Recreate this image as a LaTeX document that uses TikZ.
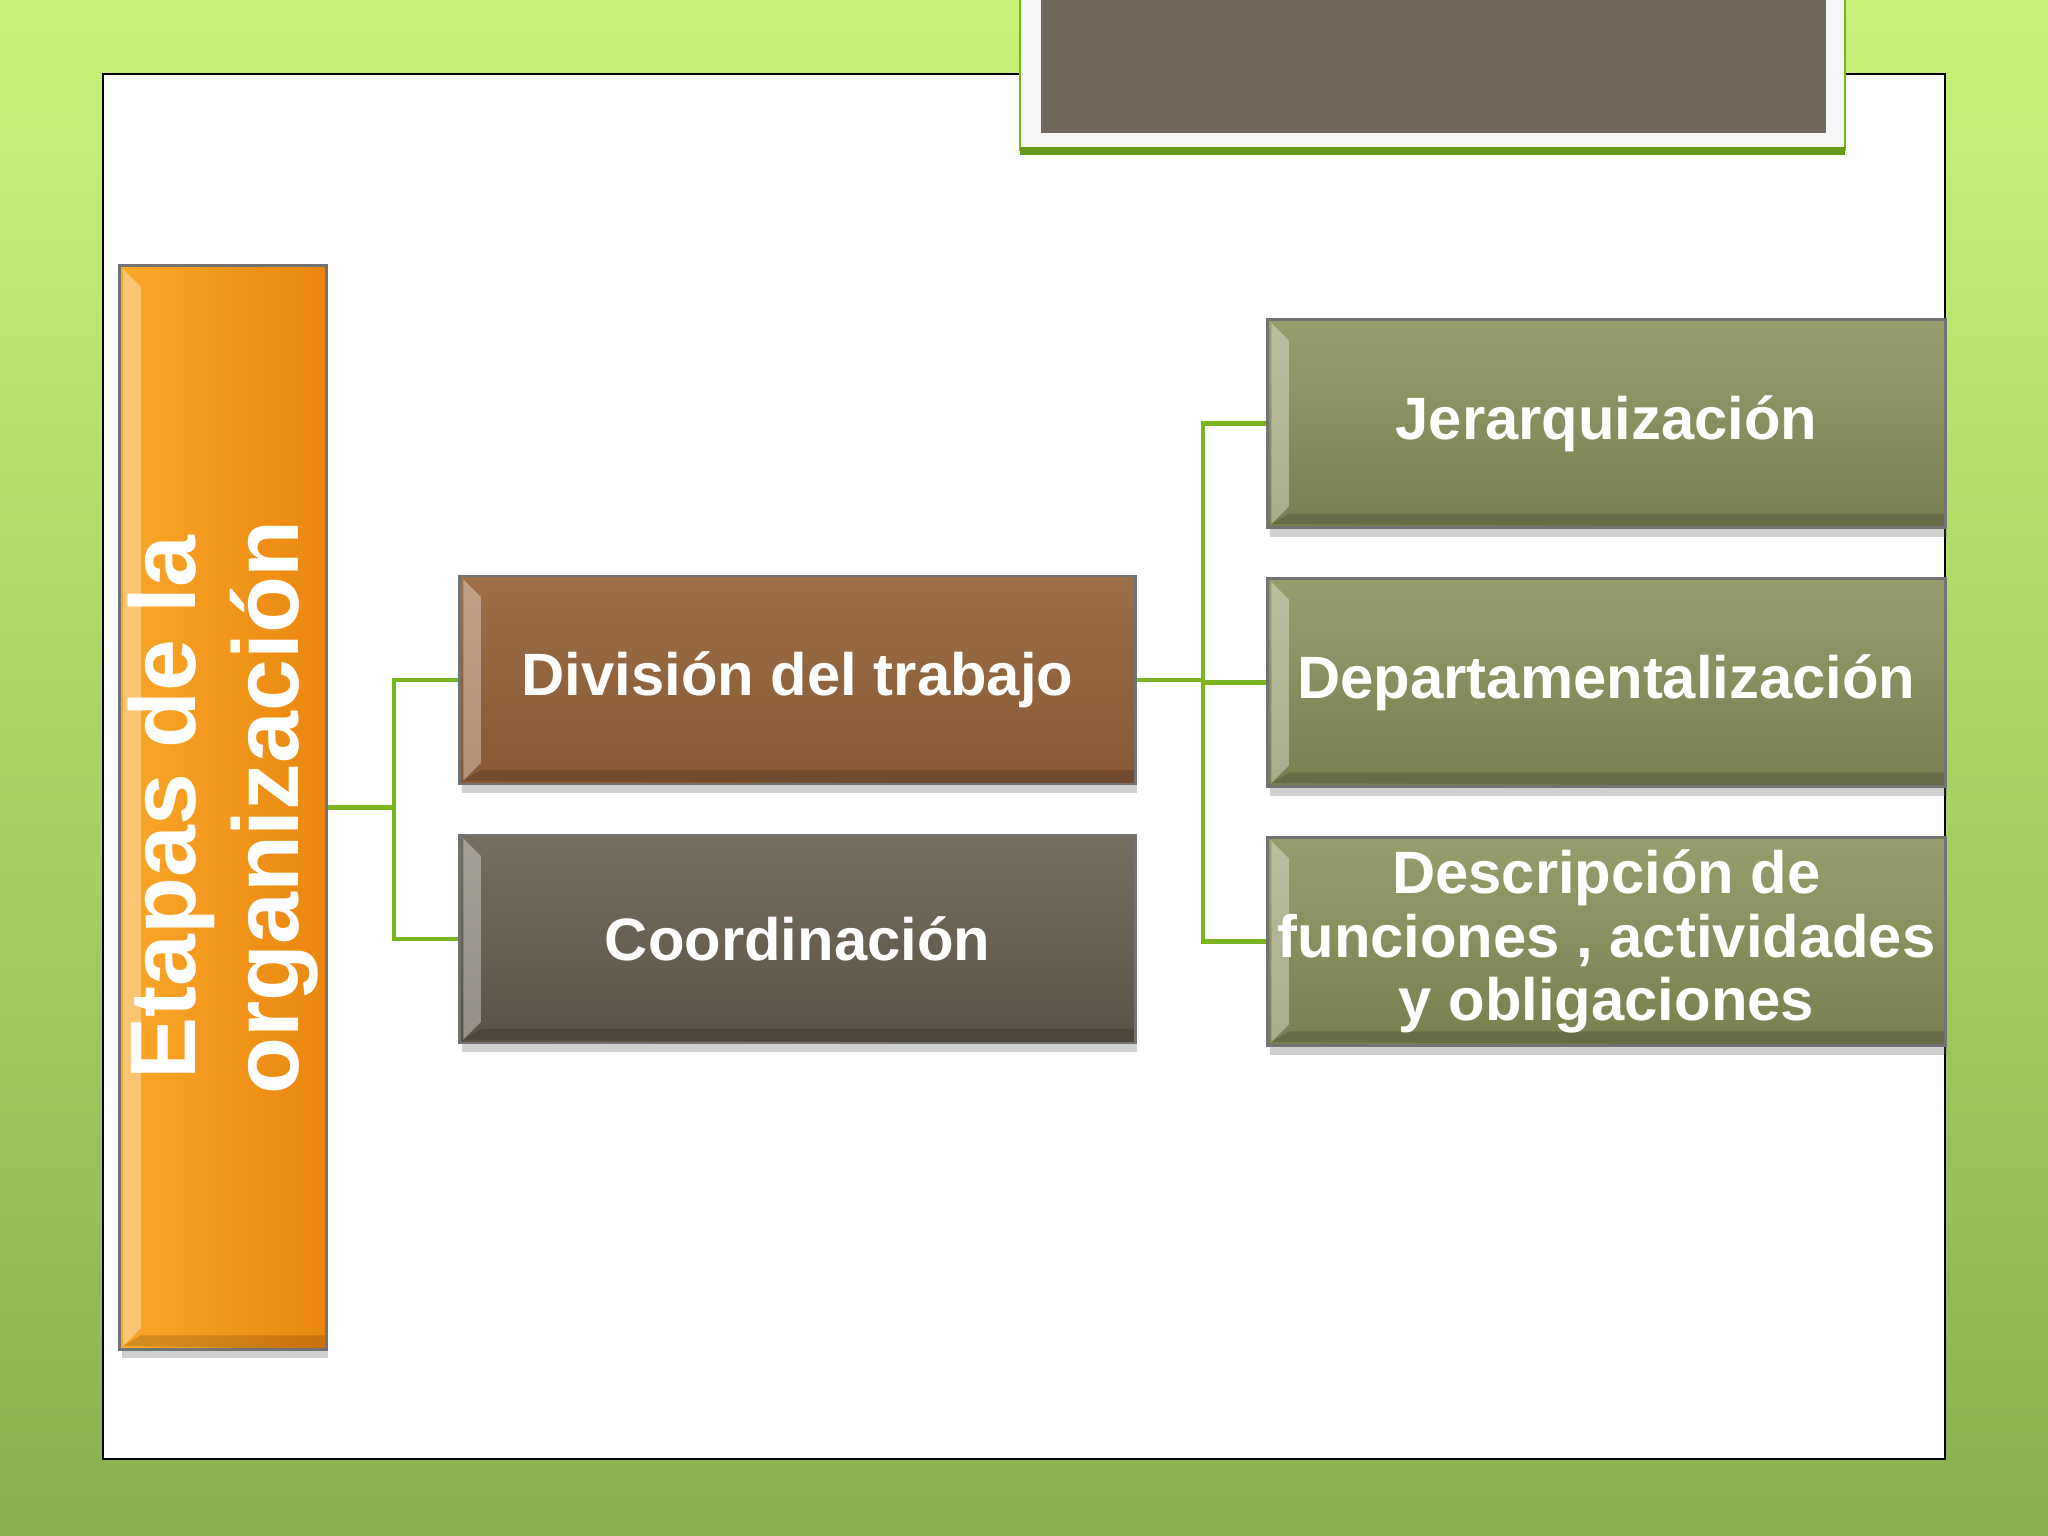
\documentclass[tikz,border=0pt]{standalone}
\usepackage{fontspec}
\setmainfont{Liberation Sans}
\usetikzlibrary{positioning,shadows}
\definecolor{linkgreen}{RGB}{122,181,30}
\definecolor{titlegray}{RGB}{114,103,91}
\begin{document}
\begin{tikzpicture}[x=0.01cm,y=-0.01cm,node distance=0.48cm,
  box/.style={rectangle,draw=black!55,line width=0.8pt,text=white,font=\bfseries\fontsize{17}{18}\selectfont,align=center,
    minimum width=6.75cm,minimum height=2.08cm,inner sep=1pt,
    drop shadow={shadow xshift=0.02cm,shadow yshift=-0.09cm,opacity=0.3,fill=black!60},
    path picture={
      \fill[white,opacity=0.35] ([xshift=1pt,yshift=1pt]path picture bounding box.south west) -- ([xshift=1pt,yshift=-1pt]path picture bounding box.north west)
        -- ([xshift=6pt,yshift=-6pt]path picture bounding box.north west) -- ([xshift=6pt,yshift=6pt]path picture bounding box.south west) -- cycle;
      \fill[black,opacity=0.15] ([xshift=1pt,yshift=1pt]path picture bounding box.south west) -- ([xshift=6pt,yshift=4pt]path picture bounding box.south west)
        -- ([yshift=4pt]path picture bounding box.south east) -- (path picture bounding box.south east) -- cycle;}},
  brownbox/.style={box,top color={rgb,255:red,158;green,112;blue,72},bottom color={rgb,255:red,134;green,88;blue,52}},
  graybox/.style={box,top color={rgb,255:red,118;green,111;blue,97},bottom color={rgb,255:red,90;green,82;blue,70}},
  olivebox/.style={box,minimum width=6.77cm,top color={rgb,255:red,152;green,157;blue,108},bottom color={rgb,255:red,120;green,128;blue,80}},
  link/.style={draw=linkgreen,line width=1.2pt}]
  \useasboundingbox (0,0) rectangle (2048,1536);
  % background and slide panel
  \shade[top color={rgb,255:red,202;green,242;blue,122},bottom color={rgb,255:red,138;green,176;blue,78}] (0,0) rectangle (2048,1536);
  \fill[white] (103,74) rectangle (1945,1459);
  \draw[black,line width=0.6pt] (103,74) rectangle (1945,1459);
  % title frame
  \fill[white!96!black] (1020,0) rectangle (1845,151);
  \draw[linkgreen,line width=0.6pt] (1020,0) -- (1020,151) (1845,0) -- (1845,151);
  \draw[linkgreen!85!black,line width=2pt] (1020,151) -- (1845,151);
  \fill[titlegray] (1041,0) rectangle (1826,133);

  \node[box,minimum width=2.065cm,minimum height=10.83cm,
    left color={rgb,255:red,251;green,168;blue,42},right color={rgb,255:red,234;green,134;blue,14}] (etapas) at (223,807.5) {};
  \node[rotate=90,text=white,align=center,font=\bfseries\fontsize{26.5}{29.5}\selectfont] (etapastxt) at (etapas) {Etapas de la\\organización};

  \node[brownbox] (division) at (797.5,680) {División del trabajo};
  \node[graybox] (coord) [below=of division] {Coordinación};

  \node[olivebox] (jerarq) at (1606.5,423.5) {Jerarquización};
  \node[olivebox] (depto) [below=of jerarq] {Departamentalización};
  \node[olivebox] (descr) [below=of depto] {Descripción de\\funciones , actividades\\y obligaciones};

  \path[link] (etapas.east) -- ++(66.5,0) coordinate (j1)
      (j1) |- (division.west)
      (j1) |- (coord.west);
  \path[link] (division.east) -- ++(66.5,0) coordinate (j2)
      (j2) |- (jerarq.west)
      (j2) |- (depto.west)
      (j2) |- (descr.west);
\end{tikzpicture}
\end{document}
